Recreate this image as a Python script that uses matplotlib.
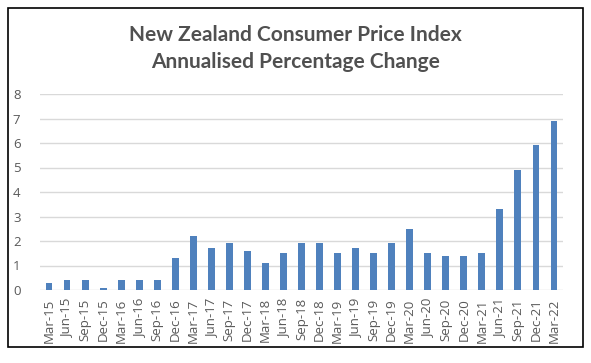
import matplotlib
matplotlib.use("Agg")
import matplotlib.pyplot as plt
from matplotlib.patches import Rectangle

categories = ["Mar-15","Jun-15","Sep-15","Dec-15","Mar-16","Jun-16","Sep-16","Dec-16",
              "Mar-17","Jun-17","Sep-17","Dec-17","Mar-18","Jun-18","Sep-18","Dec-18",
              "Mar-19","Jun-19","Sep-19","Dec-19","Mar-20","Jun-20","Sep-20","Dec-20",
              "Mar-21","Jun-21","Sep-21","Dec-21","Mar-22"]
values = [0.3,0.4,0.4,0.1,0.4,0.4,0.4,1.3,
          2.2,1.7,1.9,1.6,1.1,1.5,1.9,1.9,
          1.5,1.7,1.5,1.9,2.5,1.5,1.4,1.4,
          1.5,3.3,4.9,5.9,6.9]
yticks = [0,1,2,3,4,5,6,7,8]

W, H = 591, 363
fig = plt.figure(figsize=(W/100, H/100), dpi=100)
fig.patch.set_facecolor("white")
fig.patches.append(Rectangle((8/W, 1-347/H), (583-8)/W, (347-8)/H, transform=fig.transFigure,
                             fill=False, edgecolor="black", linewidth=1.2))

ax = fig.add_axes([40/W, 1-290/H, (563-40)/W, (290-94)/H])
x = range(len(categories))
ax.bar(x, values, width=0.38, color="#4F81BD", zorder=3)
ax.set_xlim(-0.5, len(categories)-0.5)
ax.set_ylim(0, 8)
ax.set_yticks(yticks)
ax.set_xticks(list(x))
ax.set_xticklabels(categories, rotation=90)
ax.grid(axis="y", color="#D9D9D9", linewidth=1, zorder=0)
for s in ax.spines.values():
    s.set_visible(False)
ax.tick_params(length=0, labelsize=9.5, labelcolor="#595959", pad=6)
for lab in ax.get_xticklabels() + ax.get_yticklabels():
    lab.set_family("Open Sans")
ax.tick_params(axis="y", pad=14)

fig.text(0.5, 1-35/H, "New Zealand Consumer Price Index", ha="center", va="center",
         fontsize=15, fontweight="bold", color="#505050", family="Lato")
fig.text(0.5, 1-62/H, "Annualised Percentage Change", ha="center", va="center",
         fontsize=15, fontweight="bold", color="#505050", family="Lato")

fig.savefig("out.png", dpi=100, facecolor="white")
